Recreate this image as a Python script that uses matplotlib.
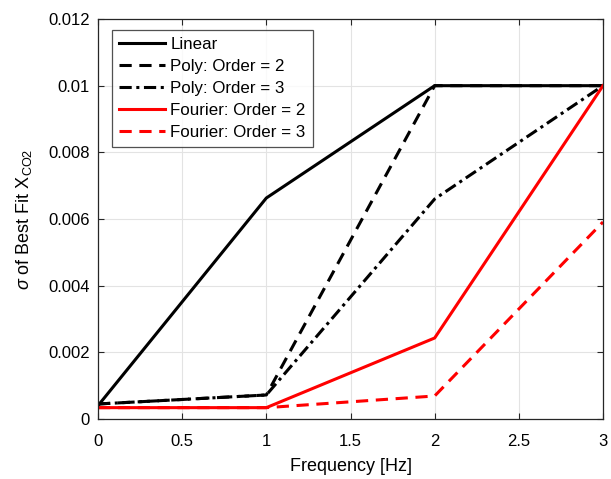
import matplotlib
matplotlib.use("Agg")
import matplotlib.pyplot as plt

plt.rcParams['font.family'] = ['Liberation Sans', 'DejaVu Sans']
plt.rcParams['mathtext.fontset'] = 'custom'
plt.rcParams['mathtext.rm'] = 'Liberation Sans'
plt.rcParams['mathtext.it'] = 'Liberation Sans:italic'

freq = [0, 1, 2, 3]
linear = [0.00040, 0.00663, 0.0100, 0.0100]
poly2 = [0.00045, 0.00072, 0.0100, 0.0100]
poly3 = [0.00045, 0.00072, 0.0066, 0.0100]
fourier2 = [0.00034, 0.00034, 0.00243, 0.0100]
fourier3 = [0.00034, 0.00034, 0.00069, 0.00591]

labels = ['Linear', 'Poly: Order = 2', 'Poly: Order = 3', 'Fourier: Order = 2', 'Fourier: Order = 3']
xticks = [0, 0.5, 1, 1.5, 2, 2.5, 3]
xticklabels = ['0', '0.5', '1', '1.5', '2', '2.5', '3']
yticks = [0, 0.002, 0.004, 0.006, 0.008, 0.01, 0.012]
yticklabels = ['0', '0.002', '0.004', '0.006', '0.008', '0.01', '0.012']

fig = plt.figure(figsize=(6.11, 4.79), dpi=100)
ax = fig.add_axes([0.1604, 0.1253, 0.8265, 0.835])

lw = 2.2
ax.plot(freq, linear, color='black', lw=lw, ls='-', label=labels[0])
ax.plot(freq, poly2, color='black', lw=lw, ls=(0, (4, 2.5)), label=labels[1])
ax.plot(freq, poly3, color='black', lw=lw, ls=(0, (4, 1.5, 1, 1.5)), label=labels[2])
ax.plot(freq, fourier2, color='#ff0000', lw=lw, ls='-', label=labels[3])
ax.plot(freq, fourier3, color='#ff0000', lw=lw, ls=(0, (4, 2.5)), label=labels[4])

ax.set_xlim(0, 3)
ax.set_ylim(0, 0.012)
ax.set_xticks(xticks)
ax.set_xticklabels(xticklabels)
ax.set_yticks(yticks)
ax.set_yticklabels(yticklabels)
ax.grid(True, color='#e3e3e3', lw=0.8)
ax.set_axisbelow(True)
ax.tick_params(direction='in', length=4, labelsize=12, top=True, right=True, color='#262626')
ax.tick_params(axis='x', pad=11)
ax.tick_params(axis='y', pad=6)
for s in ax.spines.values():
    s.set_color('#262626')
    s.set_linewidth(0.9)

ax.set_xlabel('Frequency [Hz]', fontsize=13, labelpad=6)
ax.set_ylabel(r'$\it{\sigma}$ of Best Fit X$_{\rm CO2}$', fontsize=13, labelpad=10)

leg = ax.legend(loc='upper left', bbox_to_anchor=(0.0277, 0.9725), fontsize=12.2, frameon=True,
                fancybox=False, edgecolor='#262626', handlelength=2.75, handletextpad=0.3,
                labelspacing=0.42, borderpad=0.4, borderaxespad=0.0)
leg.get_frame().set_linewidth(0.9)

fig.savefig('out.png', dpi=100)
